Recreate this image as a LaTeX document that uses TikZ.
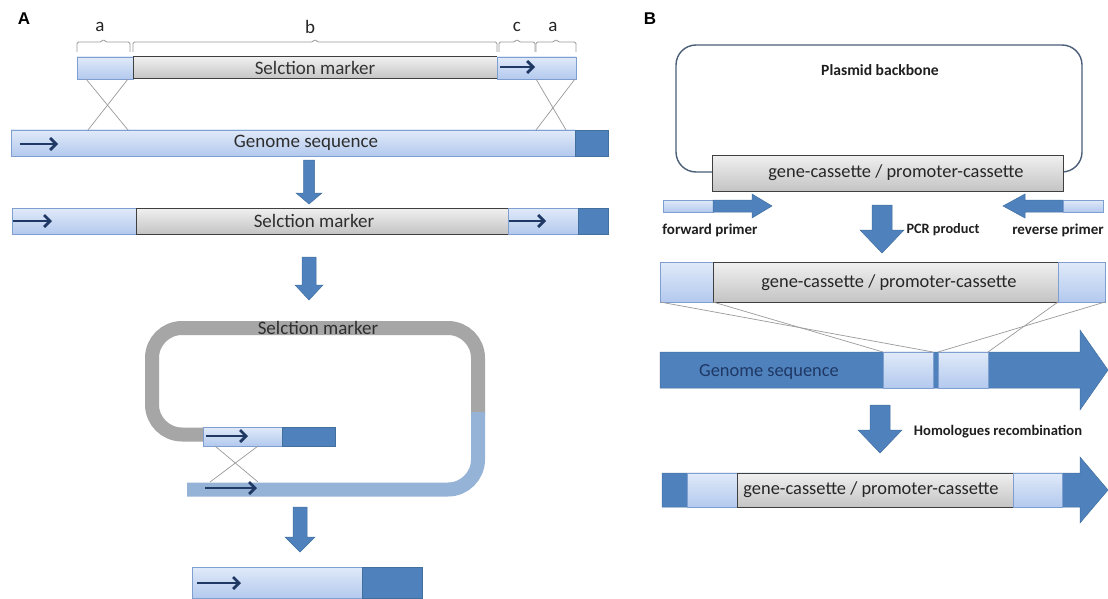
\documentclass[tikz,border=0pt]{standalone}
\usepackage{fontspec}
\setmainfont{Carlito}
\newfontfamily\arialfont{Liberation Sans}
\usetikzlibrary{arrows.meta}
\definecolor{lbtop}{HTML}{E0EAF9}
\definecolor{lbbot}{HTML}{B3C9EE}
\definecolor{lbline}{HTML}{7F9FD0}
\definecolor{dblue}{HTML}{4F81BD}
\definecolor{dbline}{HTML}{41709F}
\definecolor{gtop}{HTML}{F0F0F0}
\definecolor{gbot}{HTML}{C4C4C4}
\definecolor{gline}{HTML}{3F3F3F}
\definecolor{navy}{HTML}{1F3864}
\definecolor{loopgray}{HTML}{A6A6A6}
\definecolor{loopblue}{HTML}{95B3D7}
\definecolor{thinline}{HTML}{9A9A9A}
\definecolor{plasline}{HTML}{4B5E78}
\newcommand\mybar[7]{\node[#2, anchor=north west, minimum width={(#5-#3)*1pt}, minimum height={(#6-#4)*1pt}] (#1) at (#3,#4) {#7};}
\newcommand\blockdown[6]{\path[bigarr] (#1-#5,#2) -- (#1+#5,#2) -- (#1+#5,#3) -- (#1+#6,#3) -- (#1,#4) -- (#1-#6,#3) -- (#1-#5,#3) -- cycle;}
\begin{document}
\begin{tikzpicture}[x=1pt,y=-1pt,
  lb/.style={draw=lbline, line width=0.8pt, top color=lbtop, bottom color=lbbot, inner sep=0pt, outer sep=0pt},
  db/.style={draw=dbline, line width=0.6pt, fill=dblue, inner sep=0pt, outer sep=0pt},
  gb/.style={draw=gline, line width=1pt, top color=gtop, bottom color=gbot, inner sep=0pt, outer sep=0pt, font=\fontsize{19}{19}\selectfont, text=black!80},
  atext/.style={font=\fontsize{19}{19}\selectfont, text=black!82},
  navyarr/.style={draw=navy, line width=2.8pt, -{Straight Barb[length=6pt,width=12pt]}},
  cross/.style={draw=thinline, line width=0.7pt},
  bigarr/.style={fill=dblue, draw=dbline, line width=0.5pt},
  lbl/.style={font=\fontsize{15}{15}\selectfont\bfseries, text=black!88},
  btext/.style={font=\fontsize{18.4}{18.4}\selectfont, text=black!85},
  brace/.style={draw=thinline, line width=0.8pt, rounded corners=1.5pt},
  panel/.style={font=\arialfont\bfseries\fontsize{17}{17}\selectfont}
]
\useasboundingbox (0,0) rectangle (1108,599);
\fill[white] (0,0) rectangle (1108,599);

% ---------------- Panel A ----------------
\node[panel] (labA) at (24,19) {A};
\foreach \xa/\xb/\t/\lx/\n in {77/130/a/100/ba1, 133/497/b/310/bb, 499/535/c/517/bc, 536/576/a/553/ba2}{
  \draw[brace] (\xa,52) -- (\xa,42) -- ({(\xa+\xb)/2-2},42) -- ({(\xa+\xb)/2},39) -- ({(\xa+\xb)/2+2},42) -- (\xb,42) -- (\xb,52);
  \node[font=\fontsize{19}{19}\selectfont, text=black!85] (\n) at (\lx,27) {\t};
}
% top construct
\mybar{t1}{lb}{77}{57}{133}{79}{}
\mybar{t2}{gb}{133}{57}{497}{79}{Selction marker}
\mybar{t3}{lb}{497}{57}{576}{79}{}
\draw[navyarr] (500,67) -- (535,67);
% genome sequence
\mybar{g1}{lb}{11}{130}{575}{156}{}
\mybar{g2}{db}{575}{130}{608}{156}{}
\node[atext] (g1t) at (306,143) {Genome sequence};
\draw[navyarr] (20,144) -- (58,144);
% crossovers
\draw[cross] (88,130) -- (128,79);
\draw[cross] (128,130) -- (86,79);
\draw[cross] (536,79) -- (566,130);
\draw[cross] (575,79) -- (536,130);
% arrow 1
\blockdown{309}{160}{193}{204}{5.5}{13}
% integrated
\mybar{s1}{lb}{12}{208}{136}{234}{}
\mybar{s2}{gb}{136}{208}{508}{234}{}
\node[atext] (s2t) at (314,221) {Selction marker};
\mybar{s3}{lb}{508}{208}{578}{234}{}
\mybar{s4}{db}{578}{208}{608}{234}{}
\draw[navyarr] (13,221) -- (52,221);
\draw[navyarr] (509,221) -- (546,221);
% arrow 2
\blockdown{309}{257}{285}{300}{7}{14}
% loop
\draw[loopgray, line width=14pt, rounded corners=30pt] (204,434.5) -- (152,434.5) -- (152,328) -- (478,328) -- (478,414);
\draw[loopblue, line width=14pt, rounded corners=30pt] (478,412) -- (478,489.5) -- (187,489.5);
\node[atext] (loopt) at (318,328) {Selction marker};
\mybar{m1}{lb}{203}{427}{282}{446}{}
\mybar{m2}{db}{282}{427}{335}{446}{}
\draw[navyarr] (206,436) -- (248,436);
\draw[cross] (215,446) -- (258,482);
\draw[cross] (258,446) -- (210,482);
\draw[navyarr] (205,488) -- (257,488);
% arrow 3
\blockdown{300}{507}{537}{552}{7}{15}
% result
\mybar{f1}{lb}{192}{567}{362}{598.5}{}
\mybar{f2}{db}{362}{567}{422}{598.5}{}
\draw[navyarr] (197,583) -- (241,583);

% ---------------- Panel B ----------------
\node[panel] (labB) at (650,19) {B};
\draw[plasline, line width=1.4pt, rounded corners=20pt] (712,172) -- (676,172) -- (676,45) -- (1082,45) -- (1082,172) -- (1063,172);
\node[font=\fontsize{15.6}{15.6}\selectfont\bfseries, text=black!88] (plas) at (880,70) {Plasmid backbone};
\mybar{pb}{gb}{712}{155}{1063}{191}{}
\node[btext] (pbt) at (896,173) {gene-cassette / promoter-cassette};
% primers
\mybar{fp1}{lb}{663}{200}{713}{212}{}
\path[bigarr] (713,200) -- (752,200) -- (752,194) -- (772,206) -- (752,218) -- (752,212) -- (713,212) -- cycle;
\path[bigarr] (1063,200) -- (1025,200) -- (1025,194) -- (1003,206) -- (1025,218) -- (1025,212) -- (1063,212) -- cycle;
\mybar{rp1}{lb}{1063}{200}{1103}{212}{}
\node[lbl] (fpl) at (710,230) {forward primer};
\node[lbl, font=\fontsize{14.3}{14.3}\selectfont\bfseries] (pcrl) at (943,230) {PCR product};
\node[lbl] (rpl) at (1058,230) {reverse primer};
\blockdown{882}{205}{230}{253}{10}{22}
% PCR product
\mybar{p1}{lb}{660}{262}{713}{302}{}
\mybar{p2}{gb}{713}{262}{1058}{302}{}
\node[btext] (p2t) at (889,283) {gene-cassette / promoter-cassette};
\mybar{p3}{lb}{1058}{262}{1105}{302}{}
% genome sequence B
\path[bigarr] (660,352) -- (1080,352) -- (1080,330) -- (1108,370) -- (1080,410) -- (1080,388) -- (660,388) -- cycle;
\node[btext, text=navy] (gsB) at (769,372) {Genome sequence};
\mybar{h1}{lb}{883}{352}{933}{388}{}
\mybar{h2}{lb}{938}{352}{988}{388}{}
\draw[cross] (p1.south west) -- (h1.north east);
\draw[cross] (p1.south east) -- (h1.north west);
\draw[cross] (p3.south west) -- (h2.north east);
\draw[cross] (p3.south east) -- (h2.north west);
\blockdown{880}{405}{430}{453}{10}{22}
\node[lbl, font=\fontsize{14.6}{14.6}\selectfont\bfseries] (hrl) at (998,432) {Homologues recombination};
% result B
\path[bigarr] (662,473) -- (1080,473) -- (1080,457) -- (1108,490) -- (1080,523) -- (1080,507) -- (662,507) -- cycle;
\mybar{r1}{lb}{687}{473}{737}{507}{}
\mybar{r2}{gb}{737}{473}{1013}{507}{}
\node[btext] (r2t) at (871,490) {gene-cassette / promoter-cassette};
\mybar{r3}{lb}{1013}{473}{1062}{507}{}
\end{tikzpicture}
\end{document}
